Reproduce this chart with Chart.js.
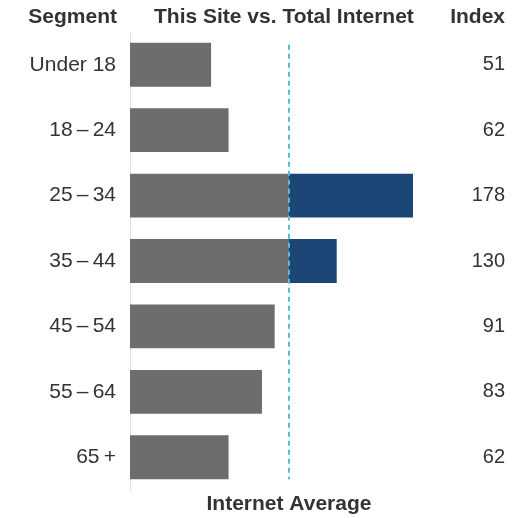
<!DOCTYPE html>
<html>
<head>
<meta charset="utf-8">
<script src="https://cdn.jsdelivr.net/npm/chart.js@4.4.1/dist/chart.umd.min.js"></script>
<style>
  html, body { margin: 0; padding: 0; background: #fff; }
  #wrap { width: 521px; height: 518px; }
</style>
</head>
<body>
<div id="wrap"><canvas id="chart" width="521" height="518"></canvas></div>
<script>
// age segments, top to bottom
const segments = ['Under 18', '18\u2009\u2013\u200924', '25\u2009\u2013\u200934', '35\u2009\u2013\u200944', '45\u2009\u2013\u200954', '55\u2009\u2013\u200964', '65\u2009+'];
const indexValues = [51, 62, 178, 130, 91, 83, 62];
// part of the bar up to the internet average (100) and the part above it
const upToAverage = [51, 62, 100, 100, 91, 83, 62];
const aboveAverage = [0, 0, 78, 30, 0, 0, 0];
const averageLevel = 100;

const textColor = '#333333';
const fontFamily = '"Liberation Sans", Arial, Helvetica, sans-serif';

const headerPlugin = {
  id: 'headers',
  afterDatasetsDraw(chart) {
    const { ctx, chartArea, scales } = chart;
    // dashed internet average line
    const x = scales.x.getPixelForValue(averageLevel);
    const top = scales.y.getPixelForValue(0) - 20;
    const bottom = scales.y.getPixelForValue(segments.length - 1) + 22;
    ctx.save();
    ctx.strokeStyle = '#55bcdc';
    ctx.lineWidth = 2;
    ctx.setLineDash([5, 4]);
    ctx.beginPath();
    ctx.moveTo(x, top);
    ctx.lineTo(x, bottom);
    ctx.stroke();
    ctx.restore();
  },
  afterDraw(chart) {
    const { ctx, chartArea, scales } = chart;
    ctx.save();
    ctx.fillStyle = textColor;
    ctx.font = 'bold 21px ' + fontFamily;
    ctx.textBaseline = 'middle';
    ctx.textAlign = 'right';
    ctx.fillText('Segment', scales.y.right - 13, 17);
    ctx.textAlign = 'left';
    ctx.fillText('This Site vs. Total Internet', chartArea.left + 24, 17);
    ctx.textAlign = 'right';
    ctx.fillText('Index', scales.y2.right, 17);
    ctx.restore();
  }
};

new Chart(document.getElementById('chart'), {
  type: 'bar',
  data: {
    labels: segments,
    datasets: [
      {
        label: 'Up to average',
        data: upToAverage,
        backgroundColor: '#6d6d70',
        barPercentage: 0.67,
        categoryPercentage: 1
      },
      {
        label: 'Above average',
        data: aboveAverage,
        backgroundColor: '#1b4675',
        barPercentage: 0.67,
        categoryPercentage: 1
      }
    ]
  },
  options: {
    indexAxis: 'y',
    responsive: false,
    animation: false,
    layout: { padding: { top: 32, right: 16, left: 0, bottom: 0 } },
    plugins: {
      legend: { display: false },
      tooltip: { enabled: false }
    },
    scales: {
      x: {
        stacked: true,
        min: 0,
        max: 200,
        grid: { display: false },
        border: { display: false },
        ticks: { display: false },
        title: {
          display: true,
          text: 'Internet Average',
          color: textColor,
          font: { family: fontFamily, size: 21, weight: 'bold' },
          padding: { top: 0, bottom: 1 }
        },
        afterFit(scale) { scale.height = 28; }
      },
      y: {
        stacked: true,
        grid: { display: false, drawTicks: false },
        border: { display: true, color: '#e2e2e2', width: 1 },
        ticks: {
          color: textColor,
          padding: 14,
          font: { family: fontFamily, size: 21 }
        },
        afterFit(scale) { scale.width = 130; }
      },
      y2: {
        type: 'category',
        position: 'right',
        labels: indexValues.map(String),
        offset: true,
        grid: { display: false, drawTicks: false },
        border: { display: false },
        ticks: {
          color: textColor,
          crossAlign: 'far',
          padding: 0,
          font: { family: fontFamily, size: 20 }
        },
        afterFit(scale) { scale.width = 57; }
      }
    }
  },
  plugins: [headerPlugin]
});
</script>
</body>
</html>
